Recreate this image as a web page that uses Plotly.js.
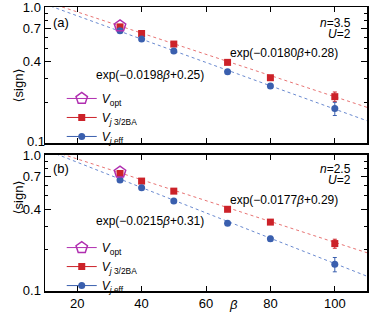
<!DOCTYPE html>
<html><head><meta charset="utf-8">
<script src="https://cdn.plot.ly/plotly-3.0.1.min.js"></script>
<style>html,body{margin:0;padding:0;background:#fff}#c{width:374px;height:312px}</style>
</head><body><div id="c"></div>
<script>
// ---- data ----
const beta = [33.3, 40, 50, 66.7, 80, 100];
const betaOpt = [33.3];
// panel (a): n=3.5, U=2
const aRed = [0.716, 0.640, 0.535, 0.392, 0.302, 0.219];
const aRedErr = [0.008, 0.008, 0.008, 0.008, 0.008, 0.018];
const aBlue = [0.670, 0.582, 0.475, 0.334, 0.262, 0.179];
const aBlueErr = [0.008, 0.008, 0.008, 0.009, 0.010, 0.020];
const aOpt = [0.729];
// panel (b): n=2.5, U=2
const bRed = [0.733, 0.644, 0.543, 0.399, 0.321, 0.223];
const bRedErr = [0.008, 0.008, 0.008, 0.008, 0.008, 0.017];
const bBlue = [0.655, 0.575, 0.459, 0.315, 0.242, 0.157];
const bBlueErr = [0.008, 0.008, 0.008, 0.009, 0.010, 0.019];
const bOpt = [0.750];
// fit parameters  exp(slope*beta + intercept): [red, blue]
const aFitSlope = [-0.0180, -0.0198];
const aFitInt = [0.28, 0.25];
const bFitSlope = [-0.0177, -0.0215];
const bFitInt = [0.29, 0.31];
const xRange = [10, 110];
const xTicks = [20, 40, 60, 80, 100];
const yMajor = [0.1, 0.4, 0.7, 1.0];
const yMajorText = ['0.1', '0.4', '0.7', '1.0'];
const yMinor = [0.2, 0.3, 0.5, 0.6, 0.8, 0.9];

const RED = '#cc2229', BLUE = '#3a5fae', MAG = '#b02fb0';
const RED_L = '#e87474', BLUE_L = '#6a8ad0';

function spread(a){ const o=[]; a.forEach((v,i)=>{ if(i) o.push(null); o.push(v); }); return o; }

function panel(xa, ya, leg, red, redErr, blue, blueErr, opt, fs, fi){
  const fitY = (k)=>xRange.map(b=>Math.exp(fs[k]*b+fi[k]));
  return [
    {x: xRange, y: fitY(0), xaxis: xa, yaxis: ya, mode:'lines', line:{color:RED_L, width:1, dash:'3px,3px'}, showlegend:false, hoverinfo:'skip'},
    {x: xRange, y: fitY(1), xaxis: xa, yaxis: ya, mode:'lines', line:{color:BLUE_L, width:1, dash:'dot'}, showlegend:false, hoverinfo:'skip'},
    {x: spread(beta), y: spread(red), xaxis: xa, yaxis: ya, mode:'lines+markers', legend: leg, legendrank: 2,
     name: '<i>V<sub>j</sub></i><sub> 3/2BA</sub>',
     line:{color:RED, width:1}, marker:{symbol:'square', size:7, color:RED},
     error_y:{type:'data', array: spread(redErr), color:RED, thickness:1, width:2}},
    {x: spread(beta), y: spread(blue), xaxis: xa, yaxis: ya, mode:'lines+markers', legend: leg, legendrank: 3,
     name: '<i>V<sub>j</sub></i><sub> eff</sub>',
     line:{color:BLUE, width:1}, marker:{symbol:'circle', size:7, color:BLUE},
     error_y:{type:'data', array: spread(blueErr), color:BLUE, thickness:1, width:2}},
    {x: betaOpt, y: opt, xaxis: xa, yaxis: ya, mode:'lines+markers', legend: leg, legendrank: 1,
     name: '<i>V</i><sub>opt</sub>',
     line:{color:MAG, width:1}, marker:{symbol:'pentagon-open', size:12, color:MAG, line:{width:1.5, color:MAG}}}
  ];
}

const F = 'Liberation Sans, Arial, sans-serif';

const data = [].concat(
  panel('x2','y2','legend', aRed, aRedErr, aBlue, aBlueErr, aOpt, aFitSlope, aFitInt),
  panel('x','y','legend2', bRed, bRedErr, bBlue, bBlueErr, bOpt, bFitSlope, bFitInt),
  [{x:[xRange[0]], y:[yMajor[0]], xaxis:'x2', yaxis:'y2', mode:'text', text:[yMajorText[0]],
    textposition:'middle left', cliponaxis:false, showlegend:false, hoverinfo:'skip',
    textfont:{family:F, size:13, color:'#000'}}]
);

function xax(extra){ return Object.assign({range:xRange, tickvals:xTicks, ticks:'inside', ticklen:5, tickcolor:'#000',
  showline:true, linecolor:'#000', linewidth:1.5, mirror:'ticks', showgrid:false, zeroline:false,
  tickfont:{family:F, size:13, color:'#000'}}, extra); }
function yax(extra){ return Object.assign({type:'log', range:[-1.0015,0.0015], tickvals:yMajor, ticktext:yMajorText, ticks:'inside', ticklen:6, tickcolor:'#000',
  minor:{tickmode:'array', tickvals:yMinor, ticks:'inside', ticklen:3, tickcolor:'#000', showgrid:false},
  showline:true, linecolor:'#000', linewidth:1.5, mirror:'ticks', showgrid:false, zeroline:false, ticklabeloverflow:'allow',
  tickfont:{family:F, size:13, color:'#000'}}, extra); }

const ann = (x,y,text,opts)=>Object.assign({x,y,text,showarrow:false,font:{family:F,size:12,color:'#000'}}, opts);
const SIGN = '<span style="font-family:DejaVu Sans">\u27e8</span>sign<span style="font-family:DejaVu Sans">\u27e9</span>';

const layout = {
  width:374, height:312, margin:{l:45, r:7, t:7, b:21},
  paper_bgcolor:'#fff', plot_bgcolor:'#fff', font:{family:F, color:'#000'},
  xaxis: xax({anchor:'y', domain:[0,1]}),
  xaxis2: xax({anchor:'y2', matches:'x', showticklabels:false}),
  yaxis: yax({domain:[0, 0.479], anchor:'x'}),
  yaxis2: yax({domain:[0.521, 1], anchor:'x2', tickvals: yMajor.slice(1), ticktext: yMajorText.slice(1)}),
  showlegend:true,
  legend:{x:0.052, y:0.729, xanchor:'left', yanchor:'top', bgcolor:'rgba(0,0,0,0)', font:{family:F,size:12}, tracegroupgap:0},
  legend2:{x:0.052, y:0.204, xanchor:'left', yanchor:'top', bgcolor:'rgba(0,0,0,0)', font:{family:F,size:12}, tracegroupgap:0},
  annotations:[
    ann(0.02, 0.945, '(a)', {xref:'paper', yref:'paper', xanchor:'left', yanchor:'middle', font:{family:F,size:13,color:'#000'}}),
    ann(0.02, 0.433, '(b)', {xref:'paper', yref:'paper', xanchor:'left', yanchor:'middle', font:{family:F,size:13,color:'#000'}}),
    ann(0.955, 0.945, '<i>n</i>=3.5', {xref:'paper', yref:'paper', xanchor:'right', yanchor:'middle'}),
    ann(0.955, 0.905, '<i>U</i>=2', {xref:'paper', yref:'paper', xanchor:'right', yanchor:'middle'}),
    ann(0.955, 0.430, '<i>n</i>=2.5', {xref:'paper', yref:'paper', xanchor:'right', yanchor:'middle'}),
    ann(0.955, 0.390, '<i>U</i>=2', {xref:'paper', yref:'paper', xanchor:'right', yanchor:'middle'}),
    ann(42.6, -0.50, 'exp(\u22120.0198<i>\u03b2</i>+0.25)', {xref:'x2', yref:'y2'}),
    ann(84.1, -0.338, 'exp(\u22120.0180<i>\u03b2</i>+0.28)', {xref:'x2', yref:'y2'}),
    ann(42.6, -0.485, 'exp(\u22120.0215<i>\u03b2</i>+0.31)', {xref:'x', yref:'y'}),
    ann(84.1, -0.331, 'exp(\u22120.0177<i>\u03b2</i>+0.29)', {xref:'x', yref:'y'}),
    ann(68.5, -0.049, '<i>\u03b2</i>', {xref:'x', yref:'paper', yanchor:'middle', font:{family:F,size:13,color:'#000'}}),
    ann(-0.112, 0.792, SIGN, {xref:'paper', yref:'paper', textangle:-90, font:{family:F,size:13,color:'#000'}}),
    ann(-0.112, 0.264, SIGN, {xref:'paper', yref:'paper', textangle:-90, font:{family:F,size:13,color:'#000'}})
  ]
};
Plotly.newPlot('c', data, layout, {staticPlot:true, displayModeBar:false});
</script></body></html>
